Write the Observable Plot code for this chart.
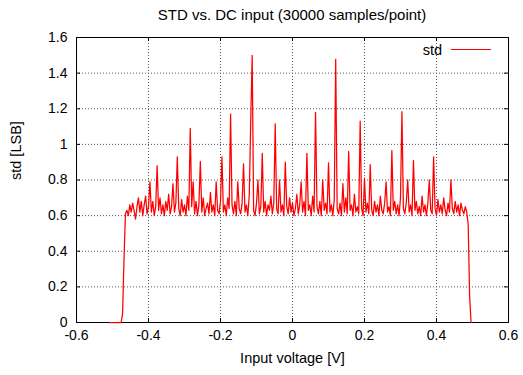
<!DOCTYPE html>
<html><head><meta charset="utf-8">
<script src="https://cdn.jsdelivr.net/npm/d3@7"></script>
<script src="https://cdn.jsdelivr.net/npm/@observablehq/plot@0.6"></script>
<style>
body{margin:0;background:#fff;font-family:"Liberation Sans",Arial,Helvetica,sans-serif;color:#000;}
#wrap{position:relative;width:523px;height:375px;overflow:hidden;}
#title{box-sizing:border-box;height:30px;padding-top:6px;line-height:18px;font-size:15px;text-align:center;margin-left:61px;width:462px;white-space:nowrap;}
#legtext{position:absolute;left:372px;top:41px;width:70px;text-align:right;font-size:14.5px;line-height:18px;}
#legline{position:absolute;left:451px;top:49px;width:40px;height:0;border-top:1px solid #ff0000;}
</style></head><body>
<div id="wrap"><div id="title"></div><div id="chart"></div><div id="legtext"></div><div id="legline"></div></div>
<script>
const titleText = "STD vs. DC input (30000 samples/point)";
const xLabel = "Input voltage [V]";
const yLabel = "std [LSB]";
const seriesName = "std";
// DC input sweep: first voltage and step of the sweep
const sweepStart = -0.508;
const sweepStep = 0.004;
const stdValues = [
0,0,0,0,0,0,0,0,0,0.05,
0.36,0.61,0.63,0.60,0.66,0.62,0.67,0.63,0.58,0.65,
0.70,0.62,0.68,0.60,0.66,0.71,0.61,0.65,0.79,0.62,
0.68,0.60,0.65,0.88,0.63,0.70,0.61,0.66,0.60,0.68,
0.63,0.72,0.61,0.65,0.78,0.62,0.67,0.93,0.64,0.60,
0.69,0.62,0.66,0.60,0.71,0.63,1.09,0.65,0.79,0.61,
0.68,0.60,0.66,0.905,0.62,0.70,0.60,0.64,0.67,0.61,
0.73,0.62,0.66,0.60,0.79,0.63,0.61,0.68,0.93,0.62,
0.66,0.60,0.70,0.64,1.17,0.66,0.61,0.68,0.60,0.79,
0.64,0.61,0.67,0.89,0.62,0.66,0.60,0.72,1.13,1.50,
0.63,0.60,0.67,0.80,0.61,0.65,0.95,0.62,0.68,0.60,
0.66,0.63,0.71,0.61,0.67,1.115,0.64,0.61,0.80,0.62,
0.66,0.60,0.90,0.65,0.61,0.70,0.62,0.67,0.60,0.64,
0.72,0.61,0.66,0.79,0.62,0.68,0.60,0.95,0.63,0.66,
0.60,0.71,0.62,1.18,0.65,0.61,0.68,0.60,0.80,0.63,
0.67,0.61,0.896,0.62,0.66,0.60,0.69,1.477,0.64,0.61,
0.67,0.60,0.78,0.62,0.70,0.61,0.96,0.63,0.66,0.60,
0.72,0.62,0.65,0.61,1.13,0.64,0.60,0.81,0.62,0.67,
0.61,0.886,0.63,0.60,0.68,0.62,0.66,0.60,0.71,0.63,
0.61,0.67,0.79,0.62,0.65,0.60,0.965,0.63,0.68,0.61,
0.66,0.60,0.70,1.184,0.64,0.61,0.67,0.80,0.62,0.66,
0.60,0.909,0.63,0.68,0.61,0.65,0.60,0.71,0.62,0.66,
0.60,0.67,0.80,0.63,0.61,0.93,0.64,0.60,0.69,0.62,
0.66,0.61,0.70,0.63,0.60,0.67,0.62,0.80,0.64,0.61,
0.68,0.62,0.66,0.60,0.67,0.63,0.61,0.65,0.62,0.55,
0.15,0.00
];
const xTicks = [-0.6,-0.4,-0.2,0,0.2,0.4,0.6];
const xTickLabels = ["-0.6","-0.4","-0.2","0","0.2","0.4","0.6"];
const yTicks = [0,0.2,0.4,0.6,0.8,1,1.2,1.4,1.6];
const yTickLabels = ["0","0.2","0.4","0.6","0.8","1","1.2","1.4","1.6"];

document.getElementById("title").textContent = titleText;
document.getElementById("legtext").textContent = seriesName;

const data = stdValues.map((v, i) => ({voltage: +(sweepStart + i * sweepStep).toFixed(4), std: v}));
const W = 523, H = 345, mT = 7, mB = 53, mL = 76, mR = 15;
const plotW = W - mL - mR, plotH = H - mT - mB;
const gridStyle = {stroke: "#555", strokeOpacity: 1, strokeWidth: 1, strokeDasharray: "1,2"};
const chart = Plot.plot({
  width: W, height: H,
  marginTop: mT, marginBottom: mB, marginLeft: mL, marginRight: mR,
  style: {fontFamily: "'Liberation Sans', Arial, Helvetica, sans-serif", fontSize: "14px", color: "#000", background: "#fff"},
  x: {domain: [-0.6, 0.6]},
  y: {domain: [0, 1.6]},
  marks: [
    Plot.gridX(xTicks, gridStyle),
    Plot.gridY(yTicks, gridStyle),
    Plot.frame({stroke: "#000", strokeWidth: 1}),
    Plot.ruleX(xTicks, {stroke: "#000", insetTop: plotH - 4}),
    Plot.ruleX(xTicks, {stroke: "#000", insetBottom: plotH - 4}),
    Plot.ruleY(yTicks, {stroke: "#000", insetRight: plotW - 4}),
    Plot.ruleY(yTicks, {stroke: "#000", insetLeft: plotW - 4}),
    Plot.axisX(xTicks, {tickSize: 0, tickPadding: 8, tickFormat: d => xTickLabels[xTicks.indexOf(d)], label: null, fontSize: 14}),
    Plot.axisY(yTicks, {tickSize: 0, tickPadding: 9, tickFormat: d => yTickLabels[yTicks.indexOf(d)], label: null, fontSize: 14}),
    Plot.text([xLabel], {frameAnchor: "bottom", dy: 40, fontSize: 14.5, fill: "#000"}),
    Plot.text([yLabel], {frameAnchor: "left", dx: -60, rotate: -90, fontSize: 14.5, fill: "#000"}),
    Plot.line(data, {x: "voltage", y: "std", stroke: "#ff0000", strokeWidth: 1.25})
  ]
});
document.getElementById("chart").appendChild(chart);
</script>
</body></html>
